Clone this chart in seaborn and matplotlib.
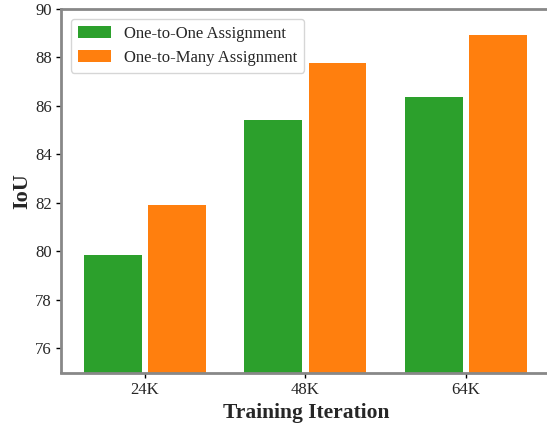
import matplotlib
matplotlib.use("Agg")
import matplotlib.pyplot as plt
import seaborn as sns
import pandas as pd

iterations = ["24K", "48K", "64K"]
one_to_one = [79.85, 85.42, 86.35]
one_to_many = [81.91, 87.78, 88.92]
series_names = ["One-to-One Assignment", "One-to-Many Assignment"]
colors = ["#2ca02c", "#ff7f0e"]
y_ticks = [76, 78, 80, 82, 84, 86, 88, 90]

df = pd.DataFrame({
    "Iteration": iterations * 2,
    "IoU": one_to_one + one_to_many,
    "Method": [series_names[0]] * 3 + [series_names[1]] * 3,
})

sns.set_style("white")
plt.rcParams["font.family"] = ["Liberation Serif", "DejaVu Serif"]

fig = plt.figure(figsize=(5.47, 4.23), dpi=100)
ax = fig.add_axes([61 / 547, 1 - 372.5 / 423, (551 - 61) / 547, (372.5 - 9) / 423])

sns.barplot(data=df, x="Iteration", y="IoU", hue="Method", order=iterations,
            hue_order=series_names, palette=colors, gap=0.1, width=0.8,
            saturation=1, ax=ax, errorbar=None, linewidth=0, edgecolor="none")

ax.set_ylim(75, 90)
ax.set_xlim(-0.522, 2.53)
ax.set_yticks(y_ticks)
ax.tick_params(axis="both", labelsize=12, length=3.5, width=1, color="black",
               left=True, bottom=True, pad=3)
ax.set_xlabel("Training Iteration", fontsize=15.5, fontweight="bold", labelpad=4)
ax.set_ylabel("IoU", fontsize=16, fontweight="bold", labelpad=2)

for s in ax.spines.values():
    s.set_color("#888888")
    s.set_linewidth(2)

leg = ax.legend(loc="upper left", fontsize=12, frameon=True, borderaxespad=0.6)
leg.get_frame().set_edgecolor("#cccccc")

fig.savefig("out.png", dpi=100)
